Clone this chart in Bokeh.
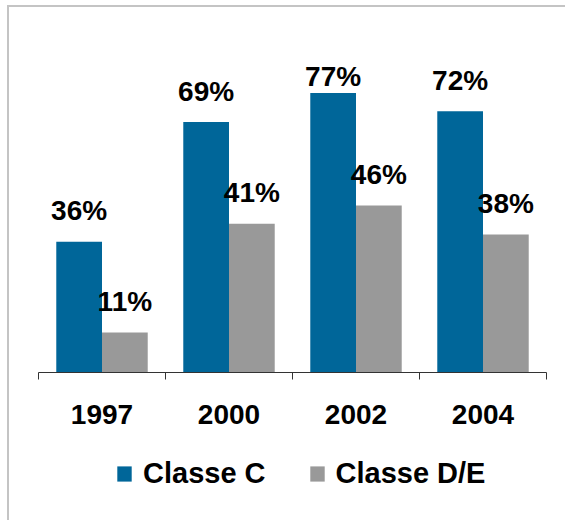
import numpy as np
from bokeh.plotting import figure
from bokeh.models import ColumnDataSource, Range1d, Legend, LegendItem
from bokeh.transform import dodge
from bokeh.core.properties import value
from bokeh.embed import file_html
from bokeh.resources import INLINE

years = ["1997", "2000", "2002", "2004"]
classe_c = [36, 69, 77, 72]
classe_de = [11, 41, 46, 38]
series_names = ["Classe C", "Classe D/E"]

BLUE = "#006699"
GRAY = "#999999"
AXIS = "#333333"
FONT = "Liberation Sans"
label_cap = 72.9  # labels cannot rise above the plot top

# layout (pixels)
W, H = 558, 515
PX_Y = 3.63          # px per percent
PX_X = 127.0         # px per category
AXIS_Y = 365         # canvas y of the category axis
LEFT = 29            # canvas x of first category boundary
TICK = 7

n = len(years)
xpos = np.arange(n) + 0.5
src = ColumnDataSource(dict(
    x=xpos,
    c=classe_c,
    de=classe_de,
    c_lab=[f"{v}%" for v in classe_c],
    de_lab=[f"{v}%" for v in classe_de],
    c_ly=np.minimum(np.array(classe_c, float), label_cap),
    de_ly=np.minimum(np.array(classe_de, float), label_cap),
))
yr_src = ColumnDataSource(dict(x=xpos, y=np.zeros(n), t=years))
tk = np.arange(n + 1)
tk_src = ColumnDataSource(dict(x=tk, y0=np.zeros(n + 1), y1=np.full(n + 1, -TICK / PX_Y)))

p = figure(width=W, height=H, output_backend="svg", toolbar_location=None,
           x_range=Range1d(-LEFT / PX_X, (W - LEFT) / PX_X),
           y_range=Range1d(-(H - AXIS_Y) / PX_Y, AXIS_Y / PX_Y),
           min_border=0)
p.styles = {"border-left": "2px solid #c4c4c4", "border-top": "2px solid #c4c4c4",
            "margin-left": "7px", "margin-top": "5px"}
p.outline_line_color = None
p.grid.visible = False
p.axis.visible = False

w = 0.36
r1 = p.vbar(x=dodge("x", -w / 2, range=p.x_range), top="c", width=w, source=src,
            fill_color=BLUE, line_color=None)
r2 = p.vbar(x=dodge("x", w / 2, range=p.x_range), top="de", width=w, source=src,
            fill_color=GRAY, line_color=None)

# category axis
p.segment(x0=0, x1=n, y0=0, y1=0, line_color=AXIS, line_width=1)
p.segment(x0="x", x1="x", y0="y0", y1="y1", source=tk_src, line_color=AXIS, line_width=1)
p.text(x="x", y="y", text="t", source=yr_src, text_align="center",
       text_baseline="alphabetic", y_offset=42,
       text_font=value(FONT), text_font_style="bold", text_font_size="28px",
       text_color="black")

for col, ly, off in (("c_lab", "c_ly", -w / 2), ("de_lab", "de_ly", w / 2)):
    p.text(x=dodge("x", off, range=p.x_range), y=ly, text=col, source=src,
           text_align="center", text_baseline="alphabetic", y_offset=-31,
           text_font=value(FONT), text_font_style="bold", text_font_size="28px",
           text_color="black")

legend = Legend(items=[LegendItem(label=series_names[0], renderers=[r1]),
                       LegendItem(label=series_names[1], renderers=[r2])],
                orientation="horizontal", location=(106, 32),
                padding=0, margin=0, spacing=42, label_standoff=10,
                glyph_width=18, glyph_height=19,
                border_line_color=None, background_fill_alpha=0,
                label_text_font=FONT, label_text_font_style="bold",
                label_text_font_size="29px", label_text_color="black")
p.add_layout(legend, "center")

open("out.html", "w").write(file_html(p, INLINE))
